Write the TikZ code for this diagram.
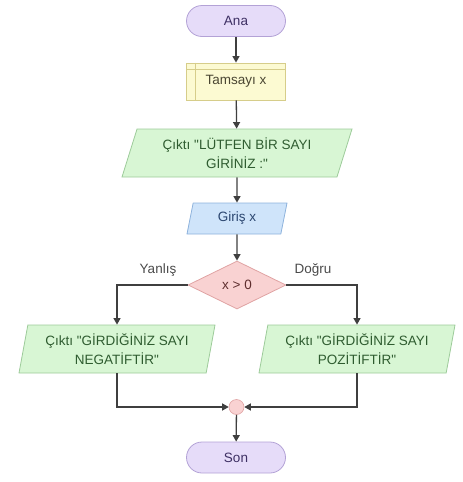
\documentclass[tikz,border=0pt]{standalone}
\usepackage{fontspec}
\setmainfont{Liberation Sans}[Ligatures=TeXOff]
\usetikzlibrary{shapes.geometric,arrows.meta}

\definecolor{termfill}{HTML}{E6DCF9}
\definecolor{termdraw}{HTML}{B3A2D6}
\definecolor{termtext}{HTML}{3E3064}
\definecolor{declfill}{HTML}{FCFAD2}
\definecolor{decldraw}{HTML}{D6CD8A}
\definecolor{decltext}{HTML}{4A4632}
\definecolor{outfill}{HTML}{D8F6D4}
\definecolor{outdraw}{HTML}{9DCB9A}
\definecolor{outtext}{HTML}{2F5C30}
\definecolor{infill}{HTML}{CFE4FA}
\definecolor{indraw}{HTML}{8DB2DC}
\definecolor{intext}{HTML}{2B4670}
\definecolor{decfill}{HTML}{F9D2D2}
\definecolor{decdraw}{HTML}{E0A3A3}
\definecolor{dectext}{HTML}{5E2E2E}
\definecolor{flowline}{HTML}{3F3F3F}
\definecolor{lbltext}{HTML}{4A4A4A}

\tikzset{
  base/.style={font=\fontsize{13.5}{19}\selectfont, align=center, inner sep=0pt, line width=0.8pt},
  terminal/.style={base, rectangle, rounded corners=15.5pt, fill=termfill, draw=termdraw,
    text=termtext, minimum width=99pt, minimum height=31pt},
  declbox/.style={base, rectangle, fill=declfill, draw=decldraw, text=decltext,
    minimum width=99pt, minimum height=37pt},
  iobox/.style={base, trapezium, trapezium stretches body,
    trapezium left angle=#1, trapezium right angle=180-#1},
  outbox/.style={fill=outfill, draw=outdraw, text=outtext},
  inbox/.style={fill=infill, draw=indraw, text=intext},
  decision/.style={base, diamond, fill=decfill, draw=decdraw, text=dectext,
    minimum width=98pt, minimum height=48pt},
  junction/.style={circle, fill=decfill, draw=decdraw, line width=0.6pt,
    minimum size=15pt, inner sep=0pt},
  flow/.style={draw=flowline, line width=1.3pt, -{Triangle[length=6.5pt,width=7pt]}},
  branchlabel/.style={font=\fontsize{13.5}{16}\selectfont, text=lbltext, inner sep=0pt}
}

\begin{document}
\begin{tikzpicture}[x=1pt, y=-1pt]
  \useasboundingbox (0,0) rectangle (463,482);

  % main column
  \node[terminal] (ana) at (236,21) {Ana};
  \node[declbox] (decl) at (236,81.5) {Tamsayı x};
  \draw[decldraw, line width=0.8pt]
    ([xshift=9pt]decl.north west) -- ([xshift=9pt]decl.south west);
  \draw[decldraw, line width=0.8pt]
    ([yshift=-7pt]decl.north west) -- ([yshift=-7pt]decl.north east);

  \node[iobox=64, outbox, minimum width=230pt, minimum height=48pt] (out1) at (237,153)
    {Çıktı "LÜTFEN BİR SAYI\\GİRİNİZ :"};
  \node[iobox=64, inbox, minimum width=100pt, minimum height=31pt] (inp) at (237,218.5)
    {Giriş x};
  \node[decision] (dec) at (237,285) {x > 0};

  % branches
  \node[iobox=74, outbox, minimum width=196pt, minimum height=48pt] (outL) at (117,349)
    {Çıktı "GİRDİĞİNİZ SAYI\\NEGATİFTİR"};
  \node[iobox=74, outbox, minimum width=196pt, minimum height=48pt] (outR) at (357,349)
    {Çıktı "GİRDİĞİNİZ SAYI\\POZİTİFTİR"};

  \node[junction] (merge) at (236.5,407) {};
  \node[terminal] (son) at (236,457.5) {Son};

  \node[branchlabel] (lblno) at (158,270) {Yanlış};
  \node[branchlabel] (lblyes) at (313,270) {Doğru};

  % connectors
  \draw[flow] (ana) -- (decl);
  \draw[flow] (decl) -- (out1);
  \draw[flow] (out1) -- (inp);
  \draw[flow] (inp) -- (dec);
  \draw[flow] (dec.west) -| (outL.north);
  \draw[flow] (dec.east) -| (outR.north);
  \draw[flow] (outL.south) |- (merge.west);
  \draw[flow] (outR.south) |- (merge.east);
  \draw[flow] (merge) -- (son);
\end{tikzpicture}
\end{document}
